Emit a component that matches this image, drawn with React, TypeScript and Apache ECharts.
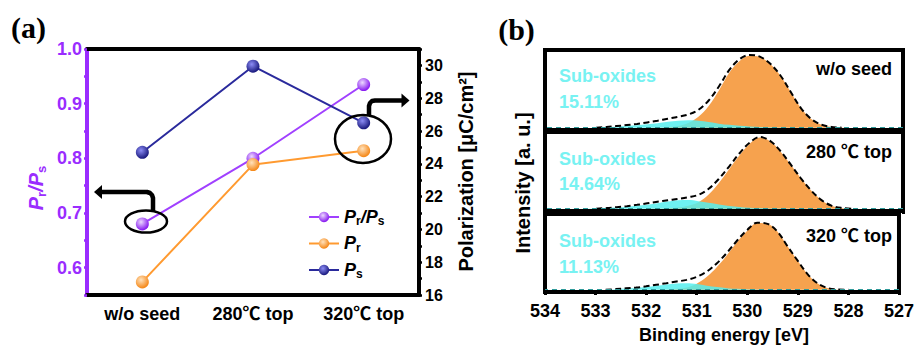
import React, { useEffect, useRef } from 'react';
import * as echarts from 'echarts';

// ---------- Panel (a) data ----------
const categories = ['w/o seed', '280℃ top', '320℃ top'];
const ratioPrPs = [0.68, 0.8, 0.935];
const prValues = [16.8, 23.95, 24.8];
const psValues = [24.7, 29.95, 26.5];

// ---------- Panel (b) data (binding energy, eV) ----------
const energies = [533.6, 533.4, 533.2, 533.0, 532.8, 532.6, 532.4, 532.2, 532.0, 531.8, 531.6, 531.4, 531.2, 531.0, 530.8, 530.6, 530.4, 530.2, 530.0, 529.8, 529.6, 529.4, 529.2, 529.0, 528.8, 528.6, 528.4, 528.2, 528.0, 527.8, 527.6];

const envelope1 = [null, null, null, 0, 0.8, 2, 3.3, 4.8, 6.8, 9, 11.5, 14, 17, 23, 35, 53, 74, 88, 93.5, 91.5, 82.5, 67.5, 46.5, 25.5, 11.5, 4, 1, 0, null, null, null];
const lattice1 = [0, 0, 0, 0, 0, 0, 0, 0, 0, 0.2, 0.5, 2, 6, 14, 28, 48, 70.5, 85.5, 92.5, 91, 82.3, 67.3, 46.5, 25.5, 11.5, 4, 1, 0.3, 0, 0, 0];
const subOxide1 = [0, 0, 0, 0, 0.6, 1.3, 2.2, 3, 4.3, 5.8, 7.5, 9, 9.6, 9, 7.3, 5.2, 3.6, 2.4, 1.6, 1, 0.5, 0.2, 0, 0, 0, 0, 0, 0, 0, 0, 0];

const envelope2 = [null, null, null, 0, 0.8, 2, 3.3, 5, 7, 9, 11, 12.8, 15, 18, 26, 39, 55, 72, 86, 93.5, 88.5, 75.5, 58, 40, 24, 11.5, 4, 1, 0, null, null];
const lattice2 = [0, 0, 0, 0, 0, 0, 0, 0, 0, 0.2, 0.5, 1.5, 4, 8.5, 18.5, 33.5, 51.5, 69.5, 84.5, 92.7, 88, 75, 58, 40, 24, 11.5, 4, 1, 0, 0, 0];
const subOxide2 = [0, 0, 0, 0.2, 0.8, 1.6, 2.6, 3.8, 5.3, 7.2, 9.3, 11, 11.2, 9.8, 7.6, 5.4, 3.6, 2.3, 1.4, 0.8, 0.4, 0.1, 0, 0, 0, 0, 0, 0, 0, 0, 0];

const envelope3 = [null, null, null, null, 0, 0.8, 1.8, 2.8, 4.5, 6.5, 8.6, 10.8, 13, 17, 24, 35, 49, 65, 79, 88.5, 87, 76.5, 57, 38, 20, 8, 2, 0.3, 0, null, null];
const lattice3 = [0, 0, 0, 0, 0, 0, 0, 0, 0, 0.1, 0.3, 1.2, 3, 8, 17, 30, 46, 63, 78, 88, 87, 76.5, 57, 38, 20, 8, 2, 0.3, 0, 0, 0];
const subOxide3 = [0, 0, 0, 0, 0, 0.7, 1.5, 2.4, 3.6, 5.2, 6.9, 8.2, 8.5, 7.4, 5.4, 3.5, 2.1, 1.2, 0.6, 0.2, 0, 0, 0, 0, 0, 0, 0, 0, 0, 0, 0];

const sampleNames = ['w/o seed', '280 ℃ top', '320 ℃ top'];
const subOxidePct = ['15.11%', '14.64%', '11.13%'];

const FONT = "'Liberation Sans', Arial, 'Noto Sans CJK SC', sans-serif";
const PURPLE = '#9a2cff';
const ORANGE = '#ff9a30';
const NAVY = '#2a2a9c';
const CYAN_TEXT = '#78f2f2';

function sphere(light: string, dark: string) {
  return new echarts.graphic.RadialGradient(0.4, 0.35, 0.62, [
    { offset: 0, color: light },
    { offset: 1, color: dark },
  ]);
}

const pairs = (vals: (number | null)[]) => energies.map((e, i) => [e, vals[i] === null ? null : vals[i]]);

export default function App() {
  const ref = useRef<HTMLDivElement>(null);

  useEffect(() => {
    if (!ref.current) return;
    const chart = echarts.init(ref.current, undefined, { renderer: 'svg' });

    const panels = [
      { env: envelope1, lat: lattice1, sub: subOxide1 },
      { env: envelope2, lat: lattice2, sub: subOxide2 },
      { env: envelope3, lat: lattice3, sub: subOxide3 },
    ];
    const gridTops = [50, 132, 214];
    const gridHeights = [80, 79, 78];

    const grids: any[] = [
      { left: 87, top: 49, width: 332, height: 246, show: false },
      ...gridTops.map((t, i) => ({
        left: 545, top: t, width: 358, height: gridHeights[i],
        show: true, borderColor: '#000', borderWidth: 4, backgroundColor: 'transparent',
      })),
    ];

    const xAxes: any[] = [
      {
        type: 'category', gridIndex: 0, position: 'bottom', data: categories, boundaryGap: true,
        axisLine: { lineStyle: { color: '#000', width: 4 } },
        axisTick: { alignWithLabel: true, length: 4, lineStyle: { color: '#000', width: 2.5 } },
        axisLabel: { color: '#000', fontFamily: FONT, fontWeight: 'bold', fontSize: 18, margin: 10 },
        splitLine: { show: false },
      },
      {
        type: 'category', gridIndex: 0, position: 'top', data: categories, boundaryGap: true,
        axisLine: { lineStyle: { color: '#000', width: 4 } },
        axisTick: { show: false }, axisLabel: { show: false }, splitLine: { show: false },
      },
      ...[0, 1, 2].map((i) => ({
        type: 'value', gridIndex: i + 1, min: 527, max: 534, interval: 1, inverse: true,
        axisLine: { onZero: false, lineStyle: { color: '#000', width: 4 } },
        axisTick: { show: true, inside: false, length: 3, lineStyle: { color: '#000', width: 3 } },
        axisLabel: {
          show: i === 2, color: '#000', fontFamily: FONT, fontWeight: 'bold', fontSize: 18, margin: 10,
        },
        splitLine: { show: false },
      })),
    ];

    const yAxes: any[] = [
      {
        type: 'value', gridIndex: 0, position: 'left', min: 0.55, max: 1.0, interval: 0.05,
        axisLine: { show: true, lineStyle: { color: PURPLE, width: 4 } },
        axisTick: { show: true, length: 3, lineStyle: { color: PURPLE, width: 2.5 } },
        axisLabel: {
          color: PURPLE, fontFamily: FONT, fontWeight: 'bold', fontSize: 18, margin: 5,
          formatter: (v: number) => {
            const r = Math.round(v * 100);
            return r % 10 === 0 ? (r / 100).toFixed(1) : '';
          },
        },
        splitLine: { show: false },
      },
      {
        type: 'value', gridIndex: 0, position: 'right', min: 16, max: 31, interval: 1,
        axisLine: { show: true, lineStyle: { color: '#000', width: 4 } },
        axisTick: { show: true, length: 3, lineStyle: { color: '#000', width: 2.5 } },
        axisLabel: {
          color: '#000', fontFamily: FONT, fontWeight: 'bold', fontSize: 16, margin: 6,
          formatter: (v: number) => (Math.round(v) % 2 === 0 ? String(Math.round(v)) : ''),
        },
        splitLine: { show: false },
      },
      ...[0, 1, 2].map((i) => ({
        type: 'value', gridIndex: i + 1, min: -3, max: 100, show: false, splitLine: { show: false },
      })),
    ];

    const series: any[] = [
      {
        name: 'Pr/Ps', type: 'line', xAxisIndex: 0, yAxisIndex: 0, data: ratioPrPs,
        symbol: 'circle', symbolSize: 13, z: 5,
        lineStyle: { color: '#a040ff', width: 2 },
        itemStyle: { color: sphere('#ecd9ff', '#8a1ff0') },
      },
      {
        name: 'Pr', type: 'line', xAxisIndex: 0, yAxisIndex: 1, data: prValues,
        symbol: 'circle', symbolSize: 13, z: 5,
        lineStyle: { color: ORANGE, width: 2 },
        itemStyle: { color: sphere('#ffe2bd', '#f58a1c') },
      },
      {
        name: 'Ps', type: 'line', xAxisIndex: 0, yAxisIndex: 1, data: psValues,
        symbol: 'circle', symbolSize: 13, z: 5,
        lineStyle: { color: NAVY, width: 2 },
        itemStyle: { color: sphere('#8c8cf5', '#1c1c80') },
      },
    ];

    panels.forEach((p, i) => {
      series.push({
        type: 'line', xAxisIndex: i + 2, yAxisIndex: i + 2, data: pairs(p.lat),
        smooth: 0.35, showSymbol: false, symbol: 'none', z: 2, silent: true,
        lineStyle: { width: 0 },
        areaStyle: { color: '#f6a24e', opacity: 1 },
      });
      series.push({
        type: 'line', xAxisIndex: i + 2, yAxisIndex: i + 2, data: pairs(p.sub),
        smooth: 0.35, showSymbol: false, symbol: 'none', z: 3, silent: true,
        lineStyle: { width: 0 },
        areaStyle: { color: '#55efef', opacity: 0.85 },
        markLine: {
          silent: true, symbol: 'none', label: { show: false },
          lineStyle: { type: [5, 4], color: '#2f9a9a', width: 1 },
          data: [{ yAxis: 0 }],
        },
      });
      series.push({
        type: 'line', xAxisIndex: i + 2, yAxisIndex: i + 2, data: pairs(p.env),
        smooth: 0.35, showSymbol: false, symbol: 'none', z: 4, silent: true, connectNulls: false,
        lineStyle: { color: '#000', width: 2, type: [6, 3.5] },
      });
    });

    const subRich = {
      i: { fontFamily: FONT, fontWeight: 'bold', fontStyle: 'italic', fontSize: 18, lineHeight: 20, color: '#000' },
      s: { fontFamily: FONT, fontWeight: 'bold', fontSize: 12, padding: [9, 0, 0, 0], color: '#000' },
    };
    const legendLabels: Record<string, string> = {
      'Pr/Ps': '{i|P}{s|r}{i|/P}{s|s}',
      Pr: '{i|P}{s|r}',
      Ps: '{i|P}{s|s}',
    };

    const textEl = (x: number, y: number, text: string, style: any = {}, extra: any = {}) => ({
      type: 'text', x, y, z: 100, ...extra,
      style: {
        text, fontFamily: FONT, fontWeight: 'bold', fontSize: 18, fill: '#000',
        align: 'left', verticalAlign: 'middle', ...style,
      },
    });

    const subTop = [76, 159, 241];
    const pctTop = [102, 184, 267];
    const nameTop = [69, 152, 236];

    const graphic: any[] = [
      textEl(28.5, 27.5, '(a)', { fontFamily: "'Liberation Serif', serif", fontSize: 30, align: 'center' }),
      textEl(516.5, 29, '(b)', { fontFamily: "'Liberation Serif', serif", fontSize: 30, align: 'center' }),
      textEl(36, 188, '{i|P}{s|r}{i|/P}{s|s}', {
        align: 'center',
        rich: {
          i: { fontFamily: FONT, fontWeight: 'bold', fontStyle: 'italic', fontSize: 20, lineHeight: 22, fill: PURPLE },
          s: { fontFamily: FONT, fontWeight: 'bold', fontSize: 13, padding: [10, 0, 0, 0], fill: PURPLE },
        },
      }, { rotation: Math.PI / 2 }),
      textEl(466, 171.5, 'Polarization [μC/cm²]', { align: 'center', fontSize: 20 }, { rotation: Math.PI / 2 }),
      textEl(523, 183, 'Intensity [a. u.]', { align: 'center', fontSize: 20 }, { rotation: Math.PI / 2 }),
      textEl(724, 335, 'Binding energy [eV]', { align: 'center', fontSize: 18 }),
      // annotation ellipses and arrows in (a)
      { type: 'ellipse', z: 100, shape: { cx: 146, cy: 221.5, rx: 21, ry: 11 }, style: { fill: 'none', stroke: '#000', lineWidth: 2.5 } },
      { type: 'polyline', z: 100, shape: { points: [[153, 211], [153, 198], [152, 195], [150, 193], [147, 192], [101, 192]] }, style: { fill: 'none', stroke: '#000', lineWidth: 4.5, lineJoin: 'round' } },
      { type: 'polygon', z: 100, shape: { points: [[94, 192], [102, 185], [102, 199]] }, style: { fill: '#000' } },
      { type: 'ellipse', z: 100, shape: { cx: 363, cy: 139, rx: 28, ry: 24 }, style: { fill: 'none', stroke: '#000', lineWidth: 2.5 } },
      { type: 'polyline', z: 100, shape: { points: [[369, 116], [369, 106], [370, 103], [372, 101], [375, 100.5], [402, 100.5]] }, style: { fill: 'none', stroke: '#000', lineWidth: 4.5, lineJoin: 'round' } },
      { type: 'polygon', z: 100, shape: { points: [[409.5, 100.5], [401.5, 93.5], [401.5, 107.5]] }, style: { fill: '#000' } },
    ];
    [0, 1, 2].forEach((i) => {
      graphic.push(textEl(559, subTop[i], 'Sub-oxides', { fill: CYAN_TEXT }));
      graphic.push(textEl(559, pctTop[i], subOxidePct[i], { fill: CYAN_TEXT }));
      graphic.push(textEl(892, nameTop[i], sampleNames[i], { align: 'right' }));
    });

    chart.setOption({
      animation: false,
      backgroundColor: '#fff',
      grid: grids,
      xAxis: xAxes,
      yAxis: yAxes,
      legend: {
        data: ['Pr/Ps', 'Pr', 'Ps'],
        orient: 'vertical', left: 303, top: 203, itemGap: 7, itemWidth: 30, itemHeight: 13,
        formatter: (name: string) => legendLabels[name],
        textStyle: { rich: subRich, color: '#000' },
        selectedMode: false,
      },
      series,
      graphic,
    });

    return () => chart.dispose();
  }, []);

  return (
    <div
      ref={ref}
      style={{ position: 'fixed', left: 0, top: 0, width: 917, height: 346, background: '#fff' }}
    />
  );
}
